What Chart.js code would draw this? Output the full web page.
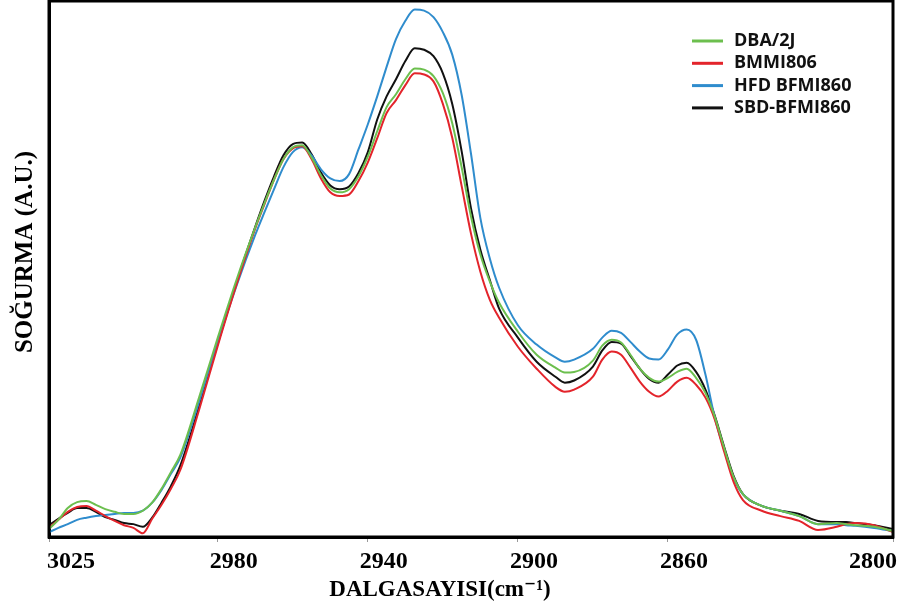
<!DOCTYPE html>
<html>
<head>
<meta charset="utf-8">
<script src="https://cdn.jsdelivr.net/npm/chart.js@4.4.1/dist/chart.umd.min.js"></script>
<style>
html,body{margin:0;padding:0;background:#fff;}
#wrap{width:904px;height:607px;position:relative;}
</style>
</head>
<body>
<div id="wrap"><canvas id="c"></canvas></div>
<script>
// Wavenumbers (cm-1)
const wavenumbers = [3025,3022.5,3020,3017.5,3015,3012.5,3010,3007.5,3005,3002.5,3000,2997.5,2995,2992.5,2990,2985,2980,2975,2970,2967.5,2965,2962.5,2960,2957.5,2955,2952.5,2950,2947.5,2945,2942.5,2940,2937.5,2935,2932.5,2930,2927.5,2925,2922.5,2920,2917.5,2915,2912.5,2910,2907.5,2905,2900,2895,2890,2887.5,2885,2880,2877.5,2875,2872.5,2870,2867.5,2865,2862.5,2860,2857.5,2855,2852.5,2850,2847.5,2845,2842.5,2840,2835,2830,2825,2820,2815,2812.5,2810,2805,2800];

const dba2j = [0.015,0.032,0.054,0.065,0.067,0.060,0.052,0.047,0.043,0.043,0.049,0.064,0.090,0.121,0.153,0.260,0.372,0.480,0.578,0.624,0.667,0.705,0.727,0.731,0.708,0.675,0.650,0.643,0.649,0.673,0.710,0.757,0.802,0.826,0.854,0.874,0.872,0.860,0.828,0.772,0.690,0.598,0.527,0.477,0.437,0.383,0.340,0.316,0.307,0.308,0.329,0.357,0.368,0.363,0.340,0.314,0.297,0.290,0.297,0.308,0.314,0.297,0.269,0.224,0.166,0.112,0.080,0.058,0.049,0.039,0.024,0.026,0.024,0.022,0.019,0.011];

const bmmi806 = [0.017,0.032,0.047,0.056,0.058,0.049,0.039,0.030,0.022,0.017,0.007,0.034,0.060,0.090,0.125,0.237,0.357,0.471,0.576,0.622,0.667,0.705,0.725,0.729,0.705,0.669,0.643,0.636,0.639,0.664,0.699,0.744,0.791,0.815,0.843,0.865,0.863,0.850,0.808,0.745,0.655,0.566,0.495,0.443,0.409,0.355,0.314,0.280,0.271,0.275,0.299,0.331,0.346,0.340,0.316,0.290,0.271,0.262,0.273,0.290,0.297,0.284,0.260,0.219,0.159,0.103,0.069,0.049,0.039,0.030,0.013,0.019,0.024,0.026,0.022,0.009];

const hfdBfmi860 = [0.009,0.017,0.024,0.032,0.036,0.039,0.041,0.043,0.045,0.045,0.049,0.064,0.088,0.118,0.148,0.252,0.364,0.469,0.564,0.607,0.649,0.690,0.718,0.727,0.712,0.686,0.669,0.664,0.677,0.723,0.770,0.822,0.877,0.929,0.963,0.984,0.982,0.970,0.942,0.900,0.825,0.715,0.595,0.520,0.465,0.395,0.359,0.335,0.327,0.331,0.351,0.372,0.385,0.381,0.364,0.346,0.333,0.331,0.350,0.378,0.387,0.368,0.303,0.222,0.163,0.110,0.080,0.058,0.049,0.039,0.024,0.024,0.022,0.021,0.017,0.011];

const sbdBfmi860 = [0.022,0.034,0.045,0.054,0.054,0.047,0.037,0.032,0.026,0.024,0.019,0.036,0.064,0.095,0.133,0.243,0.361,0.475,0.579,0.628,0.673,0.712,0.733,0.736,0.714,0.680,0.656,0.649,0.654,0.679,0.718,0.779,0.822,0.854,0.888,0.912,0.909,0.897,0.865,0.808,0.720,0.613,0.536,0.480,0.426,0.372,0.327,0.299,0.288,0.292,0.318,0.348,0.364,0.361,0.338,0.314,0.295,0.288,0.303,0.320,0.325,0.308,0.275,0.226,0.168,0.114,0.080,0.058,0.049,0.043,0.030,0.028,0.028,0.026,0.022,0.015];

const seriesLabels = ['DBA/2J','BMMI806','HFD BFMI860','SBD-BFMI860'];
const seriesColors = ['#6cbf4e','#e3242b','#2f8ccd','#111111'];
const xTickValues = [3025,2980,2940,2900,2860,2800];
const xTitle = 'DALGASAYISI(cm\u207B\u00B9)';
const yTitle = 'SO\u011EURMA (A.U.)';

const seriesValues = [dba2j, bmmi806, hfdBfmi860, sbdBfmi860];

const datasets = seriesValues.map((vals, i) => ({
  label: seriesLabels[i],
  data: wavenumbers.map((w, j) => ({x: w, y: vals[j]})),
  borderColor: seriesColors[i],
  backgroundColor: seriesColors[i],
  borderWidth: 2,
  pointRadius: 0,
  fill: false,
  cubicInterpolationMode: 'monotone'
}));

const decor = {
  id: 'decor',
  afterDraw(chart) {
    const {ctx, chartArea: a, scales: {x}} = chart;
    ctx.save();
    // frame
    ctx.lineWidth = 3;
    ctx.strokeStyle = '#000';
    ctx.strokeRect(a.left, a.top, a.right - a.left, a.bottom - a.top);
    // tick labels
    ctx.fillStyle = '#000';
    ctx.font = 'bold 24px "Liberation Serif", "DejaVu Serif", serif';
    ctx.textBaseline = 'alphabetic';
    const ty = a.bottom + 31;
    xTickValues.forEach((v, i) => {
      const px = x.getPixelForValue(v);
      if (i === 0) { ctx.textAlign = 'left'; ctx.fillText(String(v), px - 2, ty); }
      else if (i === xTickValues.length - 1) { ctx.textAlign = 'right'; ctx.fillText(String(v), px + 4, ty); }
      else { ctx.textAlign = 'center'; ctx.fillText(String(v), px + 16, ty); }
    });
    // x title
    ctx.font = 'bold 23px "Liberation Serif", "DejaVu Serif", serif';
    ctx.textAlign = 'center';
    ctx.fillText(xTitle, (a.left + a.right) / 2 - 31, a.bottom + 59);
    // y title
    ctx.save();
    ctx.translate(32, (a.top + a.bottom) / 2 - 17);
    ctx.rotate(-Math.PI / 2);
    ctx.font = 'bold 25px "Liberation Serif", "DejaVu Serif", serif';
    ctx.textAlign = 'center';
    ctx.fillText(yTitle, 0, 0);
    ctx.restore();
    // legend
    ctx.font = 'bold 18px "Open Sans", "Liberation Sans", sans-serif';
    ctx.textAlign = 'left';
    ctx.textBaseline = 'middle';
    chart.data.datasets.forEach((ds, i) => {
      const yy = 41 + i * 22.3;
      ctx.strokeStyle = ds.borderColor;
      ctx.lineWidth = 3;
      ctx.beginPath();
      ctx.moveTo(692, yy);
      ctx.lineTo(723, yy);
      ctx.stroke();
      ctx.fillStyle = '#111';
      ctx.fillText(ds.label, 734, yy);
    });
    ctx.restore();
  }
};

new Chart(document.getElementById('c'), {
  type: 'line',
  data: { datasets },
  options: {
    responsive: true,
    maintainAspectRatio: false,
    animation: false,
    layout: { padding: { left: 49, right: 11, top: 1, bottom: 65 } },
    plugins: { legend: { display: false }, tooltip: { enabled: false } },
    scales: {
      x: {
        type: 'linear',
        reverse: true,
        min: 2800,
        max: 3025,
        afterBuildTicks: s => { s.ticks = xTickValues.map(v => ({ value: v })); },
        ticks: { display: false },
        grid: { display: true, drawOnChartArea: false, drawTicks: true, tickLength: 5, color: '#999', lineWidth: 1 },
        border: { display: true, color: '#000', width: 3 }
      },
      y: {
        type: 'linear',
        min: 0,
        max: 1,
        ticks: { display: false },
        grid: { display: false, drawTicks: false },
        border: { display: true, color: '#000', width: 3 }
      }
    }
  },
  plugins: [decor]
});
</script>
</body>
</html>
